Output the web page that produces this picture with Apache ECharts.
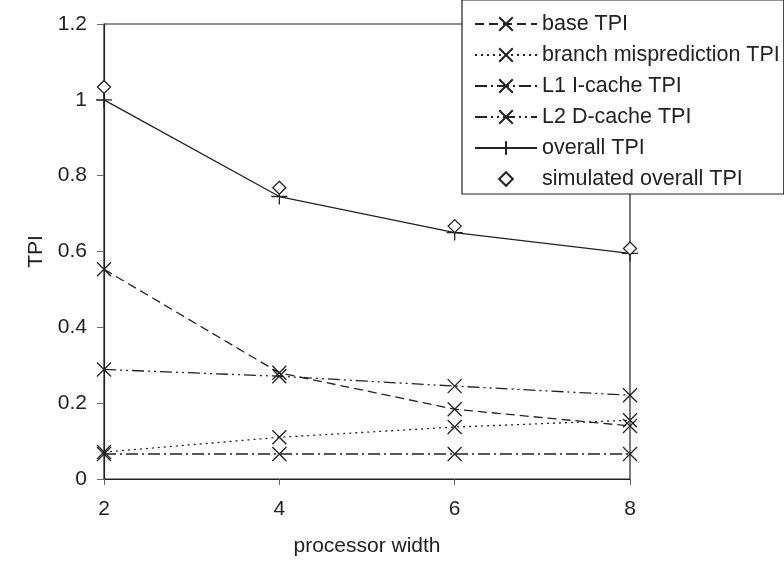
<!DOCTYPE html>
<html>
<head>
<meta charset="utf-8">
<script src="https://cdn.jsdelivr.net/npm/echarts@6/dist/echarts.min.js"></script>
<style>html,body{margin:0;padding:0;background:#fff}#c{width:784px;height:564px}</style>
</head>
<body>
<div id="c"></div>
<script>
const widths = [2, 4, 6, 8];
const baseTPI = [0.553, 0.28, 0.184, 0.14];
const branchTPI = [0.071, 0.11, 0.137, 0.155];
const l1TPI = [0.066, 0.066, 0.066, 0.066];
const l2TPI = [0.289, 0.271, 0.245, 0.221];
const overallTPI = [1.0, 0.745, 0.65, 0.595];
const simulatedTPI = [1.034, 0.768, 0.667, 0.608];
const yTicks = [0, 0.2, 0.4, 0.6, 0.8, 1, 1.2];

const C = '#222';
const FONT = 'Liberation Sans, Arial, sans-serif';
const X = 'path://M0,0L10,10M10,0L0,10';
const PLUS = 'path://M5,0L5,10M0,5L10,5';
const pts = a => a.map((v, i) => [widths[i], v]);
function lineSeries(name, data, dash, sym, size, hideLine) {
  return {
    name, type: 'line', data: pts(data),
    symbol: sym, symbolSize: size, showSymbol: true,
    lineStyle: { color: C, width: 1.3, type: dash, opacity: hideLine ? 0 : 1 },
    itemStyle: { color: hideLine ? '#fff' : 'none', borderColor: C, borderWidth: 1.3 },
    emphasis: { disabled: true }, animation: false
  };
}
const chart = echarts.init(document.getElementById('c'));
chart.setOption({
  animation: false,
  textStyle: { fontFamily: FONT },
  grid: { left: 104, right: 154, top: 24, bottom: 85, show: true, borderColor: C, borderWidth: 1.2, backgroundColor: 'transparent' },
  legend: {
    left: 462, top: 0,
    orient: 'vertical', padding: [12, 4, 3, 12],
    backgroundColor: '#fff', borderColor: C, borderWidth: 1.2,
    itemWidth: 62, itemHeight: 17, itemGap: 7,
    textStyle: { fontSize: 21.5, lineHeight: 24, color: C, fontFamily: FONT },
    data: ['base TPI', 'branch misprediction TPI', 'L1 I-cache TPI', 'L2 D-cache TPI', 'overall TPI', 'simulated overall TPI'],
    z: 10
  },
  xAxis: {
    type: 'value', min: 2, max: 8, interval: 2,
    name: 'processor width', nameLocation: 'middle', nameGap: 57,
    nameTextStyle: { fontSize: 21, color: C },
    axisLine: { lineStyle: { color: C, width: 1.2 } },
    axisTick: { show: true, inside: false, length: 6, lineStyle: { color: '#666' } },
    axisLabel: { fontSize: 21, color: C, margin: 20 },
    splitLine: { show: false }
  },
  yAxis: {
    type: 'value', min: 0, max: 1.2, interval: 0.2,
    name: 'TPI', nameLocation: 'middle', nameGap: 55, nameRotate: 90,
    nameTextStyle: { fontSize: 21, color: C },
    axisLine: { show: true, lineStyle: { color: C, width: 1.2 } },
    axisTick: { show: true, inside: false, length: 7, lineStyle: { color: '#666' } },
    axisLabel: { fontSize: 21, color: C, margin: 17, formatter: v => String(Math.round(v * 10) / 10) },
    splitLine: { show: false }
  },
  series: [
    lineSeries('base TPI', baseTPI, [9, 5], X, 14),
    lineSeries('branch misprediction TPI', branchTPI, [2, 4], X, 14),
    lineSeries('L1 I-cache TPI', l1TPI, [12, 4, 2, 4], X, 14),
    lineSeries('L2 D-cache TPI', l2TPI, [12, 4, 2, 4, 2, 4], X, 14),
    lineSeries('overall TPI', overallTPI, 'solid', PLUS, 16),
    lineSeries('simulated overall TPI', simulatedTPI, 'solid', 'diamond', 13, true)
  ]
});
</script>
</body>
</html>
